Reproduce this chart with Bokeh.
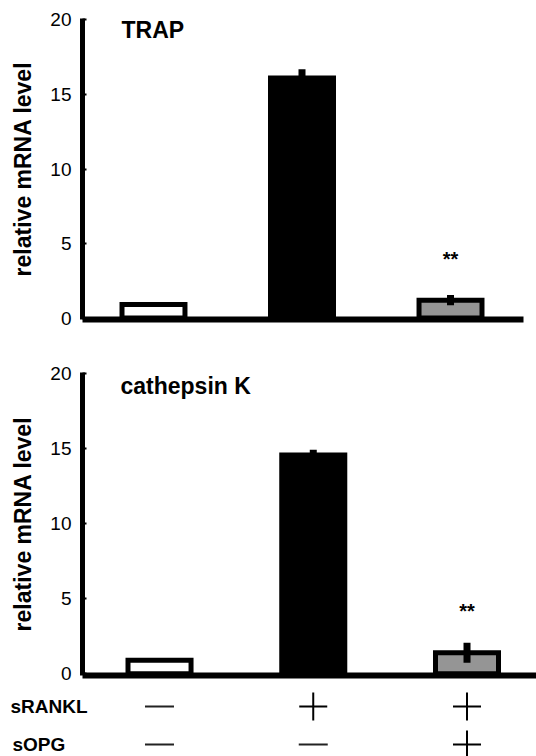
from bokeh.plotting import figure
from bokeh.models import Range1d, FixedTicker, ColumnDataSource
from bokeh.layouts import column
from bokeh.core.properties import value
from bokeh.embed import file_html
from bokeh.resources import INLINE

FONT = "Liberation Sans"

# ---- data ----
conditions = [1, 2, 3]                      # three treatment groups
trap_mean = [0.9, 16.1, 1.2]
trap_err = [0.05, 0.6, 0.35]
ctsk_mean = [0.9, 14.57, 1.4]
ctsk_err = [0.05, 0.36, 0.67]
bar_fill = ["white", "black", "#959595"]
y_ticks = [0, 5, 10, 15, 20]
trap_title = "TRAP"
ctsk_title = "cathepsin K"
sig_label = "**"
row_names = ["sRANKL", "sOPG"]
row_pos = [2, 1]
srankl_signs = ["-", "+", "+"]
sopg_signs = ["-", "-", "+"]


def no_align(p):
    try:
        p.frame_align = False
    except Exception:
        pass


def panel(means, errs, title, title_x, title_y, star_y, xr, yr, height,
          b_top, b_bottom, bar_w, x_bounds):
    p = figure(width=536, height=height, x_range=Range1d(*xr), y_range=Range1d(*yr),
               toolbar_location=None, output_backend="svg",
               min_border_left=82, min_border_right=0,
               min_border_top=b_top, min_border_bottom=b_bottom)
    no_align(p)
    p.outline_line_color = None
    p.grid.grid_line_color = None
    p.background_fill_color = "white"
    p.border_fill_color = "white"

    src = ColumnDataSource(dict(x=conditions, top=means, fill=bar_fill,
                                lo=[m - e for m, e in zip(means, errs)],
                                hi=[m + e for m, e in zip(means, errs)]))
    p.vbar(x="x", top="top", bottom=0, width=bar_w, fill_color="fill",
           line_color="black", line_width=5, line_join="miter", source=src)
    p.segment(x0="x", y0="lo", x1="x", y1="hi", line_width=7, line_color="black",
              line_cap="butt", source=src)

    p.text(x=[title_x], y=[title_y], text=[title], text_font=value(FONT),
           text_font_size="23px", text_font_style="bold", text_align="left",
           text_baseline="middle", text_color="black")
    p.text(x=[conditions[2]], y=[star_y], text=[sig_label], text_font=value(FONT),
           text_font_size="20px", text_font_style="bold", text_align="center",
           text_baseline="middle", text_color="black")

    ya = p.yaxis[0]
    ya.ticker = FixedTicker(ticks=y_ticks)
    ya.axis_label = "relative mRNA level"
    ya.axis_label_text_font = FONT
    ya.axis_label_text_font_size = "23px"
    ya.axis_label_text_font_style = "bold"
    ya.axis_label_text_color = "black"
    ya.axis_label_standoff = 11
    ya.major_label_text_font = FONT
    ya.major_label_text_font_size = "19px"
    ya.major_label_text_color = "black"
    ya.major_label_standoff = 11
    ya.axis_line_width = 5
    ya.axis_line_color = "black"
    ya.major_tick_in = 4
    ya.major_tick_out = 0
    ya.major_tick_line_width = 2
    ya.minor_tick_line_color = None

    xa = p.xaxis[0]
    xa.ticker = FixedTicker(ticks=[])
    xa.bounds = x_bounds
    xa.axis_line_width = 6
    xa.axis_line_color = "black"
    xa.major_tick_line_color = None
    xa.minor_tick_line_color = None
    xa.major_label_standoff = 0
    xa.major_tick_in = 0
    xa.major_tick_out = 0
    return p


p1 = panel(trap_mean, trap_err, trap_title, 0.785, 19.33, 3.93,
           (0.522, 3.579), (-0.1, 20.1), 333, 18, 14, 0.424, (0.522, 3.49))
p2 = panel(ctsk_mean, ctsk_err, ctsk_title, 0.746, 19.2, 4.17,
           (0.499, 3.452), (-0.12, 20.07), 352, 39, 10, 0.41, "auto")

# ---- treatment table ----
p3 = figure(width=536, height=71, x_range=Range1d(-0.034, 3.452),
            y_range=Range1d(0.684, 2.553), toolbar_location=None,
            output_backend="svg", x_axis_type=None, y_axis_type=None,
            min_border_left=0, min_border_right=0, min_border_top=0,
            min_border_bottom=0)
no_align(p3)
p3.grid.grid_line_color = None
p3.outline_line_color = None

plus_x, plus_y, minus_x, minus_y = [], [], [], []
for signs, ry in zip([srankl_signs, sopg_signs], row_pos):
    for cx, s in zip(conditions, signs):
        if s == "+":
            plus_x.append(cx); plus_y.append(ry)
        else:
            minus_x.append(cx); minus_y.append(ry)

p3.scatter(x=plus_x, y=plus_y, marker="cross", size=28, line_width=2,
           line_color="black")
p3.scatter(x=minus_x, y=minus_y, marker="dash", size=29, line_width=2,
           line_color="#222222")
p3.text(x=[0.031, 0.044], y=row_pos, text=row_names, text_font=value(FONT),
        text_font_size="19px", text_font_style="bold", text_align="left",
        text_baseline="middle", text_color="black")

layout = column(p1, p2, p3, spacing=0)
open("out.html", "w").write(file_html(layout, INLINE))
